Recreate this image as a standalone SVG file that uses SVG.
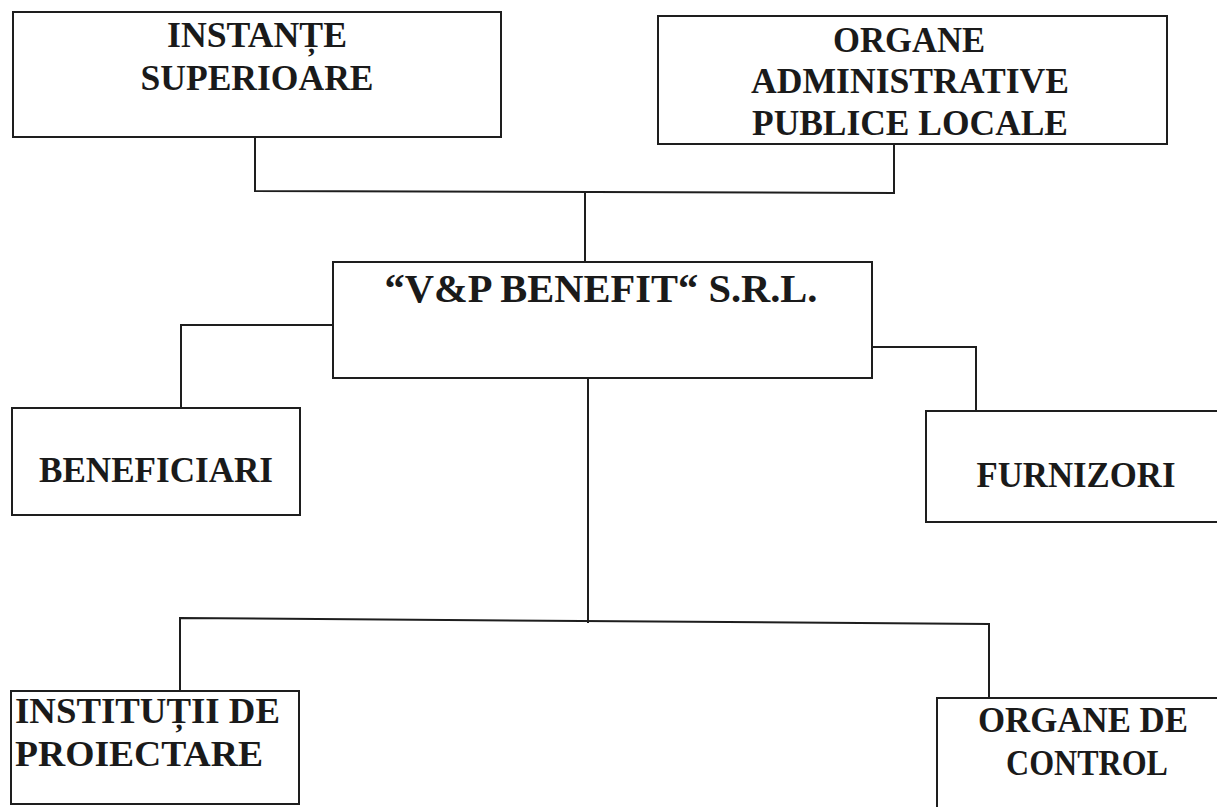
<svg xmlns="http://www.w3.org/2000/svg" width="1217" height="807" viewBox="0 0 1217 807">
<style>
.box{fill:#ffffff;stroke:#1e1e1e;stroke-width:2}
.lbl{font-family:"Liberation Serif","Times New Roman",serif;font-weight:bold;fill:#1a1a1a;text-anchor:middle;font-size:36px}
.left{text-anchor:start}
.conn{fill:none;stroke:#1e1e1e;stroke-width:2}
</style>
<rect width="1217" height="807" fill="#ffffff"/>
<g id="connectors">
<polyline class="conn" points="255,137 255,191 894,193 894,144"/>
<line class="conn" x1="585" y1="191" x2="585" y2="262"/>
<polyline class="conn" points="333,325 181,325 181,408"/>
<polyline class="conn" points="872,347 976,347 976,411"/>
<line class="conn" x1="588" y1="378" x2="588" y2="623"/>
<polyline class="conn" points="180,691 180,618 989,624 989,698"/>
</g>
<g id="instante">
<rect class="box" x="13" y="12" width="488" height="125"/>
<text class="lbl" x="257" y="47" textLength="180" lengthAdjust="spacingAndGlyphs">INSTANȚE</text>
<text class="lbl" x="257" y="90" textLength="233" lengthAdjust="spacingAndGlyphs">SUPERIOARE</text>
</g>
<g id="organe-admin">
<rect class="box" x="658" y="16" width="509" height="128"/>
<text class="lbl" x="909" y="52" textLength="152" lengthAdjust="spacingAndGlyphs">ORGANE</text>
<text class="lbl" x="910" y="93" textLength="318" lengthAdjust="spacingAndGlyphs">ADMINISTRATIVE</text>
<text class="lbl" x="910" y="135" textLength="316" lengthAdjust="spacingAndGlyphs">PUBLICE LOCALE</text>
</g>
<g id="vp-benefit">
<rect class="box" x="333" y="262" width="539" height="116"/>
<text class="lbl" x="601" y="302" style="font-size:41px" textLength="433" lengthAdjust="spacingAndGlyphs">“V&amp;P BENEFIT“ S.R.L.</text>
</g>
<g id="beneficiari">
<rect class="box" x="12" y="408" width="288" height="107"/>
<text class="lbl" x="156" y="482" textLength="234" lengthAdjust="spacingAndGlyphs">BENEFICIARI</text>
</g>
<g id="furnizori">
<rect class="box" x="926" y="411" width="300" height="111"/>
<text class="lbl" x="1076" y="487" textLength="199" lengthAdjust="spacingAndGlyphs">FURNIZORI</text>
</g>
<g id="institutii">
<rect class="box" x="11" y="691" width="288" height="113"/>
<text class="lbl left" x="15" y="723" textLength="265" lengthAdjust="spacingAndGlyphs">INSTITUȚII DE</text>
<text class="lbl left" x="15" y="766" textLength="248" lengthAdjust="spacingAndGlyphs">PROIECTARE</text>
</g>
<g id="organe-control">
<rect class="box" x="937" y="698" width="290" height="115"/>
<text class="lbl" x="1083" y="732" textLength="210" lengthAdjust="spacingAndGlyphs">ORGANE DE</text>
<text class="lbl" x="1087" y="775" textLength="162" lengthAdjust="spacingAndGlyphs">CONTROL</text>
</g>
</svg>
